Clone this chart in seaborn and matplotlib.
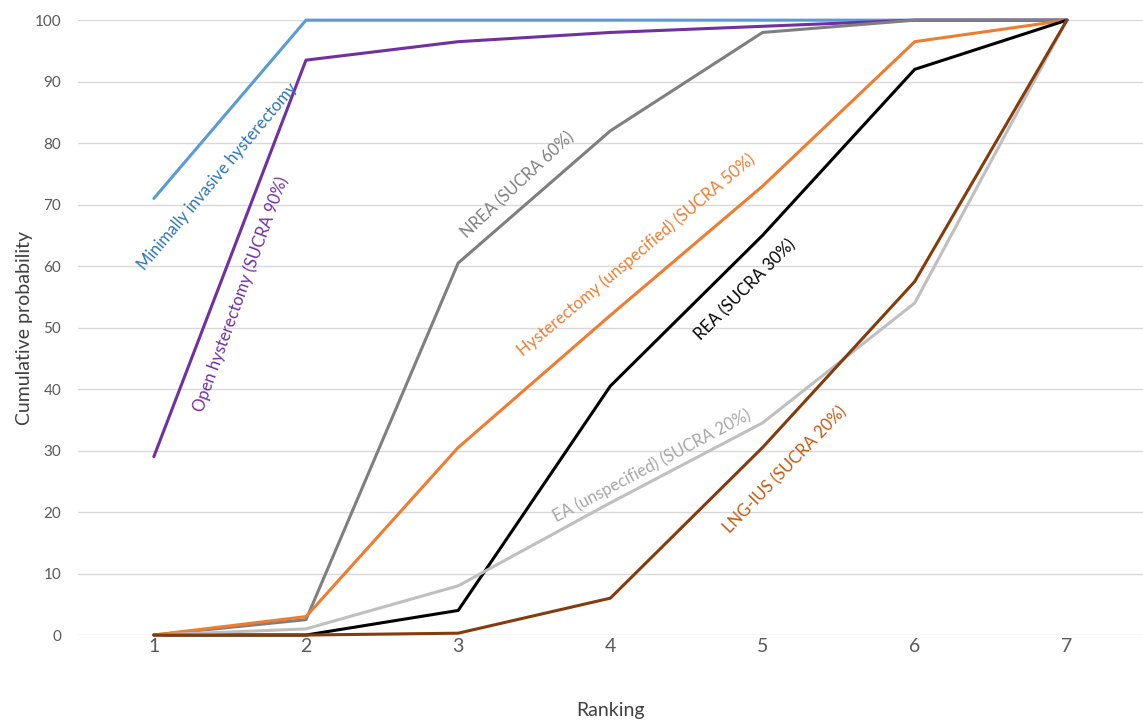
import matplotlib
matplotlib.use("Agg")
import matplotlib.pyplot as plt
import seaborn as sns
import pandas as pd

ranks = [1, 2, 3, 4, 5, 6, 7]

minimally_invasive = [71, 100, 100, 100, 100, 100, 100]
open_hysterectomy = [29, 93.5, 96.5, 98, 99, 100, 100]
nrea = [0, 2.5, 60.5, 82, 98, 100, 100]
hysterectomy_unspec = [0, 3, 30.5, 52, 73, 96.5, 100]
rea = [0, 0, 4, 40.5, 65, 92, 100]
ea_unspec = [0, 1, 8, 21.5, 34.5, 54, 100]
lng_ius = [0, 0, 0.3, 6, 30.5, 57.5, 100]

series_names = [
    "Minimally invasive hysterectomy",
    "Open hysterectomy (SUCRA 90%)",
    "NREA (SUCRA 60%)",
    "Hysterectomy (unspecified) (SUCRA 50%)",
    "REA (SUCRA 30%)",
    "EA (unspecified) (SUCRA 20%)",
    "LNG-IUS (SUCRA 20%)",
]
series_values = [minimally_invasive, open_hysterectomy, nrea, hysterectomy_unspec,
                 rea, ea_unspec, lng_ius]
line_colors = ["#5B9BD5", "#7030A0", "#7F7F7F", "#ED7D31", "#000000", "#BFBFBF", "#843C0C"]
label_colors = ["#2E75B6", "#7030A0", "#808080", "#ED7D31", "#000000", "#A6A6A6", "#C55A11"]

# label placement (x, y, rotation) in data units
label_pos = [
    (1.42, 74.5, 50),
    (1.57, 55.5, 70),
    (3.39, 73.2, 43),
    (4.17, 61.8, 40),
    (4.89, 56.1, 45),
    (4.27, 27.6, 28),
    (5.15, 26.8, 46),
]

rows = []
for name, vals in zip(series_names, series_values):
    for r, v in zip(ranks, vals):
        rows.append({"Ranking": r, "Cumulative probability": v, "Treatment": name})
df = pd.DataFrame(rows)

sns.set_theme(style="white")
plt.rcParams["font.family"] = ["Lato", "DejaVu Sans"]

fig = plt.figure(figsize=(11.43, 7.2), dpi=100)
ax = fig.add_axes([0.068, 0.118, 0.932, 0.854])

sns.lineplot(data=df, x="Ranking", y="Cumulative probability", hue="Treatment",
             hue_order=series_names, palette=dict(zip(series_names, line_colors)),
             linewidth=2.2, legend=False, ax=ax, clip_on=False)

for name, (x, y, rot), col in zip(series_names, label_pos, label_colors):
    ax.text(x, y, name, rotation=rot, color=col, fontsize=12,
            ha="center", va="center", rotation_mode="anchor")

ax.set_xlim(0.5, 7.5)
ax.set_ylim(0, 100)
ax.set_xticks(ranks)
ax.set_yticks(range(0, 101, 10))
ax.yaxis.grid(True, color="#D9D9D9", linewidth=1)
ax.set_axisbelow(True)
for s in ax.spines.values():
    s.set_visible(False)
ax.tick_params(axis="x", labelsize=14, colors="#595959", length=0, pad=2)
ax.tick_params(axis="y", labelsize=11, colors="#595959", length=0, pad=12)
ax.set_xlabel("Ranking", fontsize=14, color="#404040", labelpad=34)
ax.set_ylabel("Cumulative probability", fontsize=14, color="#404040", labelpad=1)

fig.savefig("out.png", dpi=100)
